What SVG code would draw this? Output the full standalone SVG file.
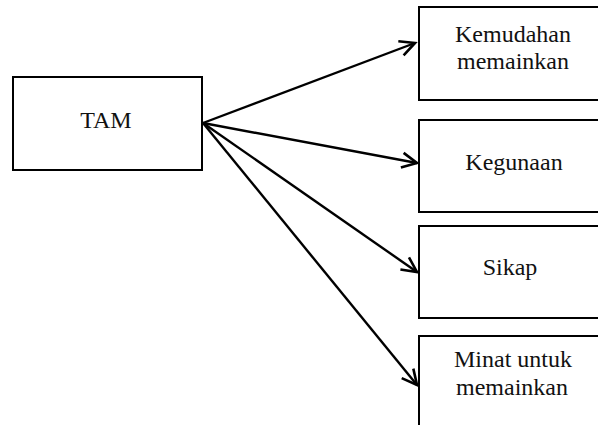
<svg xmlns="http://www.w3.org/2000/svg" width="598" height="425" viewBox="0 0 598 425">
<style>
.box{fill:#fff;stroke:#000;stroke-width:2}
.lbl{font-family:"Liberation Serif","Times New Roman",serif;font-size:24px;fill:#111;text-anchor:middle}
.conn{stroke:#000;stroke-width:2.4;fill:none}
</style>
<defs>
<marker id="arr" markerUnits="userSpaceOnUse" markerWidth="22" markerHeight="22" viewBox="-18 -9 22 18" refX="0" refY="0" orient="auto">
<path d="M-15,-7.5 L0,0 L-15,7.5" fill="none" stroke="#000" stroke-width="2.6"/>
</marker>
</defs>
<rect width="598" height="425" fill="#fff"/>
<g id="tam">
<rect class="box" x="13" y="77" width="189" height="93"/>
<text class="lbl" x="106" y="128">TAM</text>
</g>
<g id="kemudahan">
<rect class="box" x="419" y="7" width="200" height="93"/>
<text class="lbl" x="513" y="42">Kemudahan</text>
<text class="lbl" x="513" y="69">memainkan</text>
</g>
<g id="kegunaan">
<rect class="box" x="419" y="120" width="200" height="92"/>
<text class="lbl" x="514" y="170">Kegunaan</text>
</g>
<g id="sikap">
<rect class="box" x="419" y="226" width="200" height="92"/>
<text class="lbl" x="510" y="275">Sikap</text>
</g>
<g id="minat">
<rect class="box" x="419" y="336" width="200" height="120"/>
<text class="lbl" x="513" y="367">Minat untuk</text>
<text class="lbl" x="512" y="395">memainkan</text>
</g>
<g id="connectors">
<line class="conn" x1="203" y1="123" x2="415" y2="43" marker-end="url(#arr)"/>
<line class="conn" x1="203" y1="123" x2="417" y2="163" marker-end="url(#arr)"/>
<line class="conn" x1="203" y1="123" x2="417" y2="272" marker-end="url(#arr)"/>
<line class="conn" x1="203" y1="123" x2="417" y2="385" marker-end="url(#arr)"/>
</g>
</svg>
